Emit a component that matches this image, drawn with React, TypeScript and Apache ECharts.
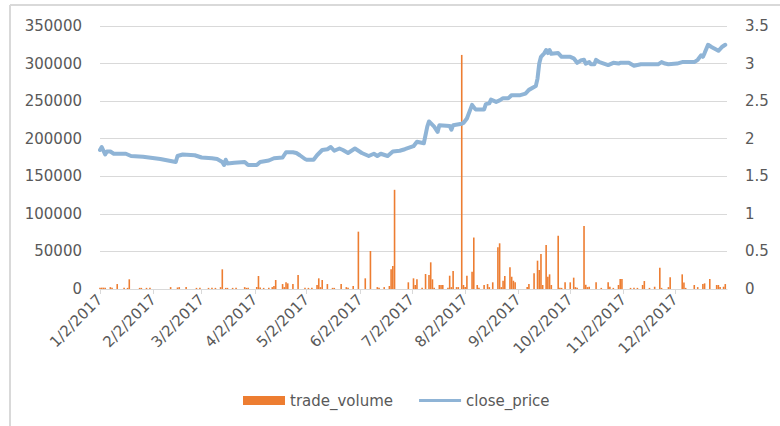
import React, { useEffect, useRef } from 'react';
import * as echarts from 'echarts';

const tickDates = ['2017-01-02', '2017-02-02', '2017-03-02', '2017-04-02', '2017-05-02', '2017-06-02', '2017-07-02', '2017-08-02', '2017-09-02', '2017-10-02', '2017-11-02', '2017-12-02'];

const volumeDates = [
  '2017-01-02', '2017-01-03', '2017-01-04', '2017-01-05', '2017-01-08', '2017-01-09', '2017-01-12', '2017-01-16', '2017-01-18', '2017-01-19', '2017-01-25', '2017-01-26', '2017-01-29', '2017-01-31',
  '2017-02-12', '2017-02-16', '2017-02-17', '2017-02-21', '2017-02-27',
  '2017-03-01', '2017-03-06', '2017-03-08', '2017-03-10', '2017-03-13', '2017-03-14', '2017-03-16', '2017-03-17', '2017-03-20', '2017-03-22', '2017-03-27', '2017-03-28', '2017-03-29',
  '2017-04-03', '2017-04-04', '2017-04-05', '2017-04-07', '2017-04-10', '2017-04-12', '2017-04-13', '2017-04-14', '2017-04-18', '2017-04-19', '2017-04-20', '2017-04-21', '2017-04-24', '2017-04-27',
  '2017-05-01', '2017-05-03', '2017-05-05', '2017-05-08', '2017-05-09', '2017-05-10', '2017-05-11', '2017-05-14', '2017-05-17', '2017-05-18', '2017-05-22', '2017-05-25', '2017-05-26', '2017-05-29',
  '2017-06-01', '2017-06-05', '2017-06-08', '2017-06-12', '2017-06-13', '2017-06-16', '2017-06-19', '2017-06-20', '2017-06-21', '2017-06-22', '2017-06-30',
  '2017-07-03', '2017-07-04', '2017-07-05', '2017-07-08', '2017-07-10', '2017-07-12', '2017-07-13', '2017-07-14', '2017-07-15', '2017-07-18', '2017-07-19', '2017-07-20', '2017-07-23', '2017-07-24', '2017-07-25', '2017-07-26', '2017-07-28', '2017-07-29', '2017-07-31',
  '2017-08-01', '2017-08-02', '2017-08-03', '2017-08-06', '2017-08-07', '2017-08-09', '2017-08-10', '2017-08-13', '2017-08-15', '2017-08-16', '2017-08-18', '2017-08-21', '2017-08-22', '2017-08-23', '2017-08-24', '2017-08-25', '2017-08-28', '2017-08-29', '2017-08-30', '2017-08-31',
  '2017-09-07', '2017-09-08', '2017-09-11', '2017-09-13', '2017-09-14', '2017-09-15', '2017-09-16', '2017-09-18', '2017-09-19', '2017-09-20', '2017-09-21', '2017-09-25', '2017-09-26', '2017-09-27', '2017-09-29',
  '2017-10-02', '2017-10-04', '2017-10-05', '2017-10-06', '2017-10-10', '2017-10-11', '2017-10-12', '2017-10-13', '2017-10-17', '2017-10-20', '2017-10-24', '2017-10-25', '2017-10-27', '2017-10-30', '2017-10-31',
  '2017-11-01', '2017-11-06', '2017-11-08', '2017-11-10', '2017-11-13', '2017-11-14', '2017-11-17', '2017-11-20', '2017-11-23', '2017-11-24', '2017-11-28', '2017-11-29',
  '2017-12-06', '2017-12-07', '2017-12-08', '2017-12-13', '2017-12-15', '2017-12-18', '2017-12-19', '2017-12-22', '2017-12-26', '2017-12-27', '2017-12-28', '2017-12-30', '2017-12-31',
];

const tradeVolume = [
  1800, 1800, 1800, 1800, 2500, 1500, 6600, 1500, 1500, 12900, 1500, 1500, 1500, 1500,
  2500, 2000, 2500, 2500, 1500,
  1500, 1500, 1500, 1500, 2500, 26200, 1500, 1500, 1500, 1500, 2500, 1500, 1500,
  2500, 17300, 2000, 1500, 1500, 2500, 4000, 12000, 6600, 2500, 8900, 7500, 6600, 18600,
  1500, 1500, 1500, 5300, 14200, 2500, 12000, 6600, 1500, 1500, 6600, 2500, 1500, 4000,
  76300, 14200, 50600, 2500, 1500, 2500, 4000, 26200, 30600, 132000, 8900,
  14200, 5300, 12900, 1500, 20000, 18600, 35500, 12900, 1500, 5300, 5300, 5300, 1500, 17700, 2500, 24000, 2500, 2500, 311500,
  5300, 2500, 17700, 23000, 68500, 5300, 1500, 5300, 6600, 2500, 8900, 55500, 60800, 2500, 11000, 17300, 28800, 16400, 11000, 8900,
  2500, 6600, 20900, 37700, 25300, 46600, 5300, 58600, 16400, 19500, 5300, 71000, 1500, 1500, 8900,
  8900, 15100, 2500, 1500, 83800, 5600, 2500, 3000, 8900, 1500, 8900, 3000, 1500, 5300, 13300,
  13300, 1500, 1500, 1500, 5300, 10600, 1500, 3000, 28400, 1500, 2500, 15500,
  19500, 8600, 1500, 5300, 2500, 6600, 7500, 13300, 5300, 5300, 2500, 3000, 6600,
];

const priceDates = [
  '2017-01-02', '2017-01-03', '2017-01-05', '2017-01-06', '2017-01-08', '2017-01-10', '2017-01-17', '2017-01-20', '2017-01-27',
  '2017-02-06', '2017-02-15', '2017-02-16', '2017-02-19', '2017-02-26',
  '2017-03-02', '2017-03-08', '2017-03-11', '2017-03-14', '2017-03-15', '2017-03-16', '2017-03-17', '2017-03-21', '2017-03-27', '2017-03-29',
  '2017-04-03', '2017-04-05', '2017-04-10', '2017-04-13', '2017-04-18', '2017-04-20', '2017-04-24', '2017-04-26', '2017-04-28',
  '2017-05-01', '2017-05-02', '2017-05-06', '2017-05-08', '2017-05-11', '2017-05-14', '2017-05-16', '2017-05-18', '2017-05-21', '2017-05-23', '2017-05-26', '2017-05-30',
  '2017-06-03', '2017-06-07', '2017-06-10', '2017-06-12', '2017-06-14', '2017-06-18', '2017-06-21', '2017-06-25', '2017-06-28',
  '2017-07-03', '2017-07-05', '2017-07-07', '2017-07-09', '2017-07-11', '2017-07-12', '2017-07-15', '2017-07-17', '2017-07-18', '2017-07-24', '2017-07-25', '2017-07-26', '2017-07-31',
  '2017-08-01', '2017-08-03', '2017-08-06', '2017-08-08', '2017-08-13', '2017-08-14', '2017-08-16', '2017-08-17', '2017-08-20', '2017-08-22', '2017-08-24', '2017-08-27', '2017-08-29',
  '2017-09-03', '2017-09-06', '2017-09-08', '2017-09-12', '2017-09-13', '2017-09-14', '2017-09-15', '2017-09-17', '2017-09-18', '2017-09-19', '2017-09-20', '2017-09-21', '2017-09-25', '2017-09-27',
  '2017-10-02', '2017-10-04', '2017-10-06', '2017-10-08', '2017-10-10', '2017-10-11', '2017-10-13', '2017-10-14', '2017-10-16', '2017-10-17', '2017-10-19', '2017-10-24', '2017-10-27', '2017-10-30', '2017-10-31',
  '2017-11-05', '2017-11-08', '2017-11-12', '2017-11-22', '2017-11-24', '2017-11-26', '2017-11-28',
  '2017-12-03', '2017-12-06', '2017-12-13', '2017-12-15', '2017-12-17', '2017-12-18', '2017-12-19', '2017-12-21', '2017-12-23', '2017-12-27', '2017-12-29', '2017-12-31',
];

const closePrice = [
  1.85, 1.89, 1.79, 1.83, 1.83, 1.80, 1.80, 1.77, 1.76,
  1.73, 1.69, 1.77, 1.79, 1.78,
  1.75, 1.74, 1.73, 1.69, 1.65, 1.72, 1.67, 1.68, 1.69, 1.65,
  1.65, 1.69, 1.71, 1.74, 1.75, 1.82, 1.82, 1.81, 1.78,
  1.73, 1.72, 1.72, 1.78, 1.85, 1.86, 1.89, 1.84, 1.87, 1.85, 1.81, 1.87,
  1.81, 1.77, 1.80, 1.77, 1.80, 1.77, 1.83, 1.84, 1.86,
  1.90, 1.96, 1.95, 1.94, 2.16, 2.23, 2.16, 2.09, 2.18, 2.17, 2.12, 2.18, 2.20,
  2.21, 2.27, 2.45, 2.39, 2.39, 2.46, 2.47, 2.52, 2.49, 2.51, 2.54, 2.54, 2.58,
  2.58, 2.60, 2.65, 2.70, 2.80, 3.00, 3.09, 3.14, 3.18, 3.14, 3.18, 3.13, 3.14, 3.09,
  3.09, 3.07, 3.01, 3.04, 3.05, 3.00, 3.02, 2.99, 2.99, 3.05, 3.02, 2.98, 3.01, 3.00, 3.01,
  3.01, 2.97, 2.99, 2.99, 3.02, 3.00, 2.99,
  3.00, 3.02, 3.02, 3.05, 3.11, 3.09, 3.14, 3.25, 3.22, 3.17, 3.22, 3.25,
];

const axisStart = '2017-01-02';
const axisEnd = '2018-01-01';

function toTime(s: string): number {
  const [y, m, d] = s.split('-').map(Number);
  return new Date(y, m - 1, d).getTime();
}

const FONT = 'DejaVu Sans';
const TEXT = '#595959';
const GRID = '#d9d9d9';
const FS = 15;

export default function App() {
  const ref = useRef<HTMLDivElement>(null);
  useEffect(() => {
    if (!ref.current) return;
    const chart = echarts.init(ref.current, undefined, { renderer: 'svg' });
    const ticks = tickDates.map(toTime);
    chart.setOption({
      animation: false,
      backgroundColor: '#ffffff',
      textStyle: { fontFamily: FONT },
      graphic: [
        { type: 'line', shape: { x1: 10, y1: 5, x2: 780, y2: 5 }, style: { stroke: GRID, lineWidth: 2 } },
        { type: 'line', shape: { x1: 10, y1: 5, x2: 10, y2: 426 }, style: { stroke: GRID, lineWidth: 2 } },
      ],
      grid: { left: 100, right: 53, top: 26, bottom: 137, containLabel: false },
      legend: {
        left: 238,
        top: 388,
        itemWidth: 42,
        itemHeight: 9,
        itemGap: 26,
        textStyle: { color: TEXT, fontSize: FS, fontFamily: FONT },
        data: [
          { name: 'trade_volume', icon: 'rect' },
          { name: 'close_price', icon: 'path://M0,0 L42,0 L42,3 L0,3 Z' },
        ],
      },
      xAxis: {
        type: 'value',
        min: toTime(axisStart),
        max: toTime(axisEnd),
        scale: true,
        splitLine: { show: false },
        axisLine: { lineStyle: { color: GRID, width: 1 } },
        axisTick: { show: true, customValues: ticks, length: 5, lineStyle: { color: GRID } },
        axisLabel: {
          customValues: ticks,
          rotate: 45,
          color: TEXT,
          fontSize: FS,
          fontFamily: FONT,
          margin: 8,
          formatter: (v: number) => {
            const d = new Date(v);
            return `${d.getMonth() + 1}/${d.getDate()}/${d.getFullYear()}`;
          },
        },
      },
      yAxis: [
        {
          type: 'value',
          min: 0,
          max: 350000,
          interval: 50000,
          axisLine: { show: false },
          axisTick: { show: false },
          splitLine: { lineStyle: { color: GRID, width: 1 } },
          axisLabel: { color: TEXT, fontSize: FS, fontFamily: FONT, margin: 18, formatter: (v: number) => String(v) },
        },
        {
          type: 'value',
          min: 0,
          max: 3.5,
          interval: 0.5,
          position: 'right',
          axisLine: { show: false },
          axisTick: { show: false },
          splitLine: { show: false },
          axisLabel: { color: TEXT, fontSize: FS, fontFamily: FONT, margin: 18, formatter: (v: number) => String(v) },
        },
      ],
      series: [
        {
          name: 'trade_volume',
          type: 'bar',
          barWidth: 1.6,
          itemStyle: { color: '#ED7D31' },
          data: volumeDates.map((d, i) => [toTime(d), tradeVolume[i]]),
        },
        {
          name: 'close_price',
          type: 'line',
          yAxisIndex: 1,
          symbol: 'none',
          itemStyle: { color: '#8FB4D6' },
          lineStyle: { color: '#8FB4D6', width: 4, join: 'round', cap: 'round' },
          data: priceDates.map((d, i) => [toTime(d), closePrice[i]]),
        },
      ],
    });
    return () => chart.dispose();
  }, []);
  return <div ref={ref} style={{ position: 'absolute', left: 0, top: 0, width: 780, height: 426 }} />;
}
